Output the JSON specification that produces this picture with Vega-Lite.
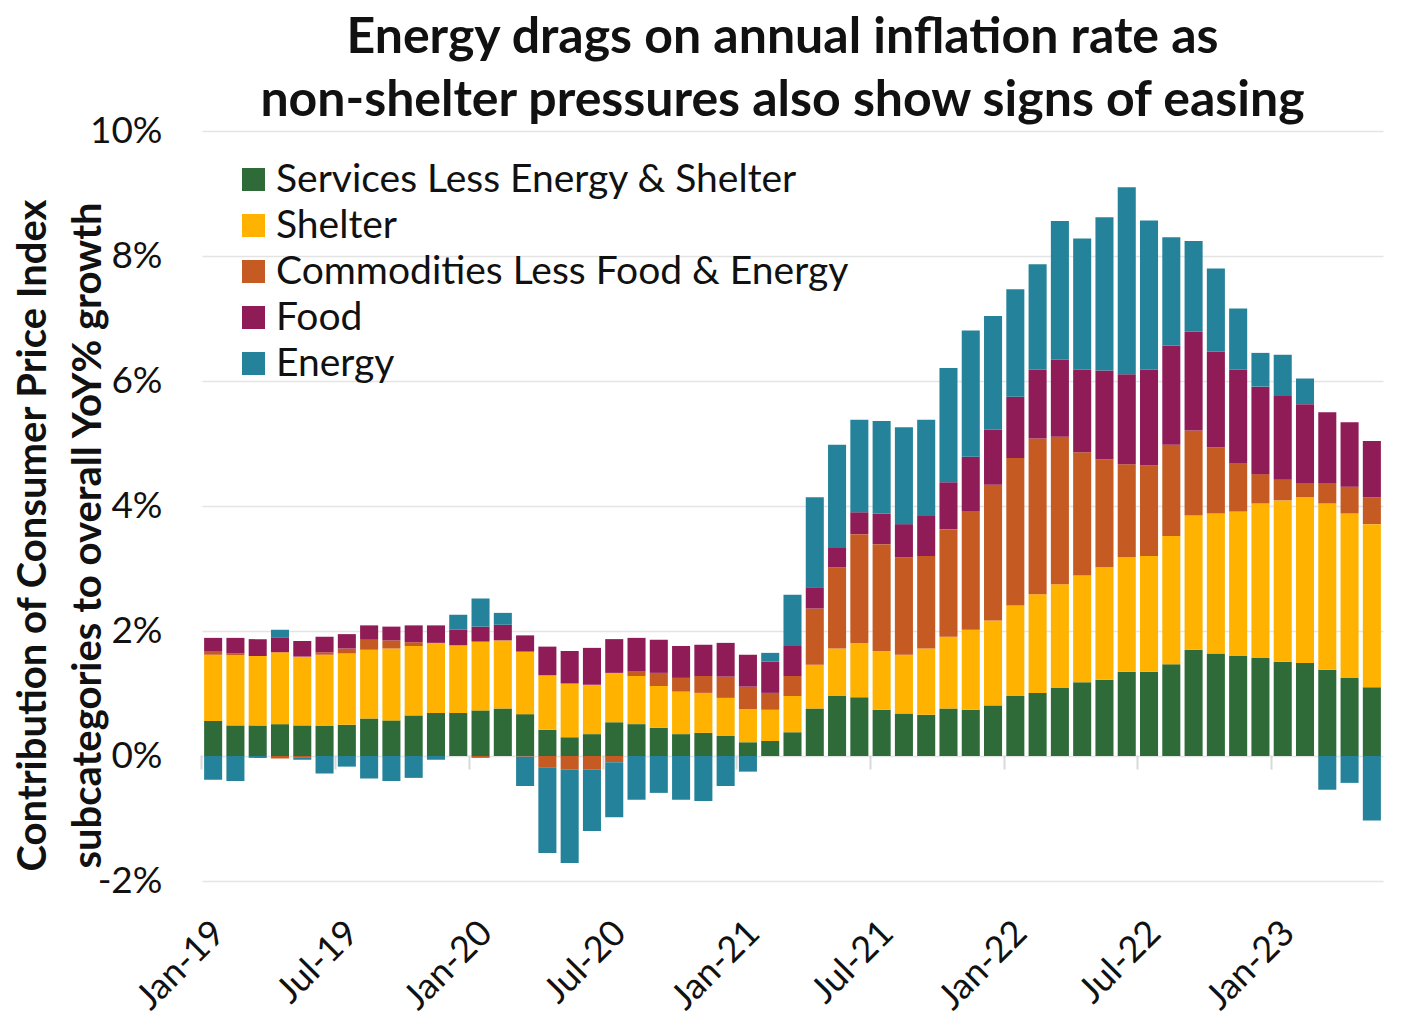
{
  "$schema": "https://vega.github.io/schema/vega-lite/v6.json",
  "width": 1181,
  "height": 750,
  "autosize": "none",
  "padding": {"left": 202, "top": 131, "right": 37, "bottom": 150},
  "background": "white",
  "config": {"view": {"stroke": null}, "font": "Lato", "axisY": {"titleFontWeight": "bold", "titleFont": "Lato"}},
  "title": {
    "text": ["Energy drags on annual inflation rate as", "non-shelter pressures also show signs of easing"],
    "fontSize": 50, "fontWeight": "bold", "font": "Lato", "color": "#111111",
    "lineHeight": 63, "anchor": "middle", "baseline": "alphabetic", "offset": 16, "dx": -10, "dy": 70
  },
  "data": {"values": [
    {"month": "Jan-19", "a_services": 0.56, "b_shelter": 1.06, "c_commodities": 0.06, "d_food": 0.21, "e_energy": -0.38},
    {"month": "Feb-19", "a_services": 0.49, "b_shelter": 1.12, "c_commodities": 0.03, "d_food": 0.25, "e_energy": -0.40},
    {"month": "Mar-19", "a_services": 0.49, "b_shelter": 1.11, "c_commodities": 0.00, "d_food": 0.27, "e_energy": -0.03},
    {"month": "Apr-19", "a_services": 0.51, "b_shelter": 1.15, "c_commodities": -0.04, "d_food": 0.23, "e_energy": 0.13},
    {"month": "May-19", "a_services": 0.49, "b_shelter": 1.10, "c_commodities": -0.02, "d_food": 0.25, "e_energy": -0.04},
    {"month": "Jun-19", "a_services": 0.48, "b_shelter": 1.14, "c_commodities": 0.04, "d_food": 0.25, "e_energy": -0.28},
    {"month": "Jul-19", "a_services": 0.50, "b_shelter": 1.14, "c_commodities": 0.08, "d_food": 0.23, "e_energy": -0.17},
    {"month": "Aug-19", "a_services": 0.60, "b_shelter": 1.10, "c_commodities": 0.16, "d_food": 0.23, "e_energy": -0.36},
    {"month": "Sep-19", "a_services": 0.57, "b_shelter": 1.15, "c_commodities": 0.13, "d_food": 0.22, "e_energy": -0.40},
    {"month": "Oct-19", "a_services": 0.65, "b_shelter": 1.11, "c_commodities": 0.06, "d_food": 0.27, "e_energy": -0.35},
    {"month": "Nov-19", "a_services": 0.69, "b_shelter": 1.12, "c_commodities": 0.00, "d_food": 0.28, "e_energy": -0.06},
    {"month": "Dec-19", "a_services": 0.69, "b_shelter": 1.08, "c_commodities": 0.00, "d_food": 0.25, "e_energy": 0.24},
    {"month": "Jan-20", "a_services": 0.73, "b_shelter": 1.10, "c_commodities": -0.03, "d_food": 0.24, "e_energy": 0.45},
    {"month": "Feb-20", "a_services": 0.76, "b_shelter": 1.09, "c_commodities": 0.00, "d_food": 0.25, "e_energy": 0.19},
    {"month": "Mar-20", "a_services": 0.67, "b_shelter": 1.00, "c_commodities": -0.01, "d_food": 0.26, "e_energy": -0.47},
    {"month": "Apr-20", "a_services": 0.42, "b_shelter": 0.87, "c_commodities": -0.18, "d_food": 0.46, "e_energy": -1.37},
    {"month": "May-20", "a_services": 0.30, "b_shelter": 0.86, "c_commodities": -0.22, "d_food": 0.52, "e_energy": -1.49},
    {"month": "Jun-20", "a_services": 0.35, "b_shelter": 0.79, "c_commodities": -0.22, "d_food": 0.59, "e_energy": -0.98},
    {"month": "Jul-20", "a_services": 0.54, "b_shelter": 0.79, "c_commodities": -0.10, "d_food": 0.54, "e_energy": -0.88},
    {"month": "Aug-20", "a_services": 0.51, "b_shelter": 0.77, "c_commodities": 0.07, "d_food": 0.54, "e_energy": -0.70},
    {"month": "Sep-20", "a_services": 0.45, "b_shelter": 0.67, "c_commodities": 0.21, "d_food": 0.53, "e_energy": -0.59},
    {"month": "Oct-20", "a_services": 0.35, "b_shelter": 0.68, "c_commodities": 0.22, "d_food": 0.51, "e_energy": -0.70},
    {"month": "Nov-20", "a_services": 0.37, "b_shelter": 0.64, "c_commodities": 0.27, "d_food": 0.50, "e_energy": -0.72},
    {"month": "Dec-20", "a_services": 0.32, "b_shelter": 0.61, "c_commodities": 0.34, "d_food": 0.54, "e_energy": -0.48},
    {"month": "Jan-21", "a_services": 0.22, "b_shelter": 0.53, "c_commodities": 0.36, "d_food": 0.51, "e_energy": -0.25},
    {"month": "Feb-21", "a_services": 0.24, "b_shelter": 0.50, "c_commodities": 0.27, "d_food": 0.50, "e_energy": 0.14},
    {"month": "Mar-21", "a_services": 0.38, "b_shelter": 0.58, "c_commodities": 0.32, "d_food": 0.48, "e_energy": 0.82},
    {"month": "Apr-21", "a_services": 0.76, "b_shelter": 0.70, "c_commodities": 0.90, "d_food": 0.34, "e_energy": 1.44},
    {"month": "May-21", "a_services": 0.96, "b_shelter": 0.76, "c_commodities": 1.30, "d_food": 0.31, "e_energy": 1.65},
    {"month": "Jun-21", "a_services": 0.94, "b_shelter": 0.87, "c_commodities": 1.74, "d_food": 0.35, "e_energy": 1.48},
    {"month": "Jul-21", "a_services": 0.74, "b_shelter": 0.94, "c_commodities": 1.71, "d_food": 0.49, "e_energy": 1.48},
    {"month": "Aug-21", "a_services": 0.68, "b_shelter": 0.94, "c_commodities": 1.56, "d_food": 0.53, "e_energy": 1.55},
    {"month": "Sep-21", "a_services": 0.66, "b_shelter": 1.06, "c_commodities": 1.48, "d_food": 0.64, "e_energy": 1.54},
    {"month": "Oct-21", "a_services": 0.76, "b_shelter": 1.15, "c_commodities": 1.72, "d_food": 0.75, "e_energy": 1.83},
    {"month": "Nov-21", "a_services": 0.74, "b_shelter": 1.28, "c_commodities": 1.90, "d_food": 0.87, "e_energy": 2.02},
    {"month": "Dec-21", "a_services": 0.81, "b_shelter": 1.36, "c_commodities": 2.17, "d_food": 0.88, "e_energy": 1.82},
    {"month": "Jan-22", "a_services": 0.96, "b_shelter": 1.45, "c_commodities": 2.36, "d_food": 0.98, "e_energy": 1.72},
    {"month": "Feb-22", "a_services": 1.01, "b_shelter": 1.58, "c_commodities": 2.49, "d_food": 1.10, "e_energy": 1.69},
    {"month": "Mar-22", "a_services": 1.09, "b_shelter": 1.66, "c_commodities": 2.36, "d_food": 1.23, "e_energy": 2.22},
    {"month": "Apr-22", "a_services": 1.18, "b_shelter": 1.71, "c_commodities": 1.97, "d_food": 1.32, "e_energy": 2.10},
    {"month": "May-22", "a_services": 1.22, "b_shelter": 1.80, "c_commodities": 1.73, "d_food": 1.42, "e_energy": 2.45},
    {"month": "Jun-22", "a_services": 1.35, "b_shelter": 1.83, "c_commodities": 1.49, "d_food": 1.44, "e_energy": 2.99},
    {"month": "Jul-22", "a_services": 1.35, "b_shelter": 1.85, "c_commodities": 1.45, "d_food": 1.53, "e_energy": 2.39},
    {"month": "Aug-22", "a_services": 1.47, "b_shelter": 2.05, "c_commodities": 1.46, "d_food": 1.59, "e_energy": 1.73},
    {"month": "Sep-22", "a_services": 1.70, "b_shelter": 2.15, "c_commodities": 1.36, "d_food": 1.58, "e_energy": 1.45},
    {"month": "Oct-22", "a_services": 1.64, "b_shelter": 2.24, "c_commodities": 1.06, "d_food": 1.53, "e_energy": 1.33},
    {"month": "Nov-22", "a_services": 1.60, "b_shelter": 2.31, "c_commodities": 0.78, "d_food": 1.49, "e_energy": 0.98},
    {"month": "Dec-22", "a_services": 1.57, "b_shelter": 2.47, "c_commodities": 0.47, "d_food": 1.40, "e_energy": 0.54},
    {"month": "Jan-23", "a_services": 1.51, "b_shelter": 2.58, "c_commodities": 0.33, "d_food": 1.34, "e_energy": 0.66},
    {"month": "Feb-23", "a_services": 1.49, "b_shelter": 2.65, "c_commodities": 0.23, "d_food": 1.26, "e_energy": 0.41},
    {"month": "Mar-23", "a_services": 1.38, "b_shelter": 2.66, "c_commodities": 0.33, "d_food": 1.13, "e_energy": -0.54},
    {"month": "Apr-23", "a_services": 1.25, "b_shelter": 2.63, "c_commodities": 0.43, "d_food": 1.03, "e_energy": -0.43},
    {"month": "May-23", "a_services": 1.10, "b_shelter": 2.61, "c_commodities": 0.43, "d_food": 0.90, "e_energy": -1.03}
  ]},
  "transform": [{"fold": ["a_services", "b_shelter", "c_commodities", "d_food", "e_energy"], "as": ["cat", "value"]}],
  "layer": [
    {
      "mark": {"type": "bar"},
      "encoding": {
        "x": {
          "field": "month", "type": "ordinal", "sort": null,
          "scale": {"paddingInner": 0.19, "paddingOuter": 0.095},
          "axis": {
            "orient": "bottom",
            "values": ["Jan-19", "Jul-19", "Jan-20", "Jul-20", "Jan-21", "Jul-21", "Jan-22", "Jul-22", "Jan-23"],
            "ticks": false, "domain": false, "grid": false, "title": null,
            "labelAngle": -45, "labelFontSize": 36, "labelColor": "#111111", "labelPadding": 34, "labelOffset": -6
          }
        },
        "y": {
          "field": "value", "type": "quantitative", "stack": "zero",
          "scale": {"domain": [-2, 10], "nice": false},
          "axis": {
            "values": [-2, 0, 2, 4, 6, 8, 10],
            "labelExpr": "datum.value + '%'",
            "labelFontSize": 37, "labelColor": "#111111", "labelPadding": 40,
            "ticks": false, "domain": false,
            "gridColor": "#e4e4e4", "gridWidth": 1.5,
            "title": ["Contribution of Consumer Price Index", "subcategories to overall YoY% growth"],
            "titleFontSize": 40, "titleFontWeight": "bold", "titleFont": "Lato", "titleColor": "#111111",
            "titleLineHeight": 55, "titleAngle": -90, "titleAlign": "center", "titleBaseline": "middle",
            "titleX": -169, "titleY": 404
          }
        },
        "color": {
          "field": "cat", "type": "nominal",
          "scale": {
            "domain": ["a_services", "b_shelter", "c_commodities", "d_food", "e_energy"],
            "range": ["#2E6B38", "#FFB300", "#C55A22", "#8F1B57", "#24839A"]
          },
          "legend": {
            "orient": "none", "legendX": 32, "legendY": 29, "title": null, "padding": 0,
            "labelFontSize": 39, "labelColor": "#111111", "labelOffset": 3, "labelLimit": 0,
            "symbolType": "square", "symbolSize": 529, "symbolStrokeWidth": 0, "symbolOpacity": 1,
            "rowPadding": 6,
            "labelExpr": "datum.label == 'a_services' ? 'Services Less Energy & Shelter' : datum.label == 'b_shelter' ? 'Shelter' : datum.label == 'c_commodities' ? 'Commodities Less Food & Energy' : datum.label == 'd_food' ? 'Food' : 'Energy'"
          }
        },
        "order": {"field": "cat", "sort": "ascending"}
      }
    },
    {
      "mark": {"type": "bar", "opacity": 0},
      "encoding": {
        "x": {
          "field": "month", "type": "ordinal", "sort": null,
          "axis": {
            "orient": "bottom", "offset": -126,
            "values": ["Jan-19", "Jul-19", "Jan-20", "Jul-20", "Jan-21", "Jul-21", "Jan-22", "Jul-22", "Jan-23"],
            "labels": false, "domain": false, "grid": false, "title": null,
            "ticks": true, "tickSize": 14, "tickColor": "#d9d9d9", "tickWidth": 2, "bandPosition": -0.12
          }
        }
      }
    }
  ],
  "resolve": {"axis": {"x": "independent"}}
}
